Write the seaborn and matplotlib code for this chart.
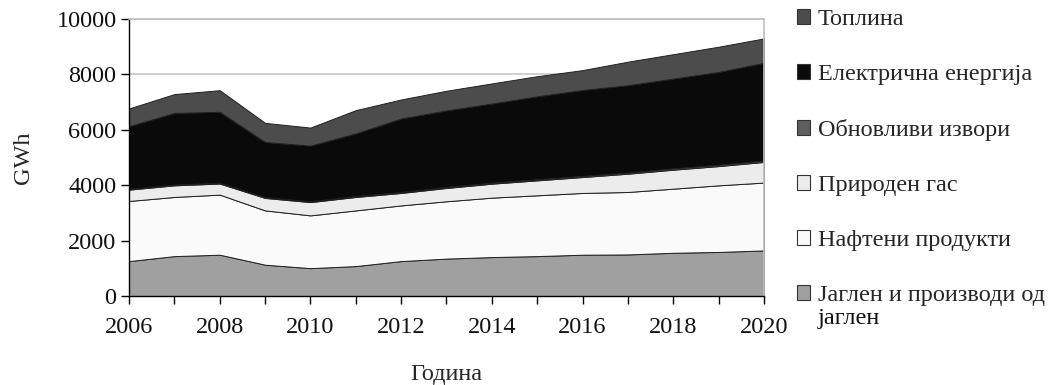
import seaborn as sns
import matplotlib.pyplot as plt

# data (GWh)
years = list(range(2006, 2021))
coal = [1260, 1440, 1490, 1130, 1005, 1080, 1260, 1350, 1405, 1440, 1490, 1500, 1560, 1590, 1645]
oil = [2170, 2135, 2170, 1960, 1905, 2010, 2010, 2070, 2145, 2195, 2230, 2255, 2315, 2405, 2450]
gas = [410, 420, 400, 450, 480, 485, 450, 480, 505, 540, 575, 660, 685, 695, 745]
renewables = [30, 30, 30, 30, 30, 35, 35, 40, 40, 40, 45, 45, 50, 50, 50]
electricity = [2260, 2585, 2560, 1990, 2010, 2260, 2655, 2760, 2855, 2995, 3100, 3150, 3240, 3350, 3530]
heat = [640, 680, 780, 690, 650, 840, 685, 710, 725, 725, 715, 850, 880, 910, 880]

labels = ["Јаглен и производи од", "Нафтени продукти", "Природен гас",
          "Обновливи извори", "Електрична енергија", "Топлина"]
colors = ["#a0a0a0", "#fafafa", "#ececec", "#5e5e5e", "#0a0a0a", "#4c4c4c"]

sns.set_theme(style="white")
plt.rcParams['font.family'] = ['Liberation Serif', 'DejaVu Serif']
fs = 17.5

fig = plt.figure(figsize=(10.53, 3.85), dpi=100)
ax = fig.add_axes([0.1225, 0.2312, 0.603, 0.7194])

polys = ax.stackplot(years, coal, oil, gas, renewables, electricity, heat,
                     colors=colors, labels=labels,
                     edgecolor="#202020", linewidth=0.7)

ax.set_xlim(2006, 2020)
ax.set_ylim(0, 10000)
ax.set_yticks(range(0, 10001, 2000))
ax.set_xticks(years)
ax.set_xticklabels([str(y) if y % 2 == 0 else "" for y in years])

ax.set_axisbelow(True)
ax.grid(axis="y", color="#c8c8c8", linewidth=1.2)
ax.grid(axis="x", visible=False)
for side in ["left", "bottom"]:
    ax.spines[side].set_color("black")
    ax.spines[side].set_linewidth(1.0)
for side in ["top", "right"]:
    ax.spines[side].set_color("#c0c0c0")
    ax.spines[side].set_linewidth(1.2)

ax.tick_params(axis="both", which="major", direction="out", length=6,
               width=1, color="black", labelsize=fs, labelcolor="#111111")
ax.tick_params(axis="y", left=True, pad=3)
ax.tick_params(axis="x", bottom=True, pad=9)

ax.set_ylabel("GWh", fontsize=fs, labelpad=16)
ax.set_xlabel("Година", fontsize=fs, labelpad=19)

handles, labs = ax.get_legend_handles_labels()
leg = fig.legend(handles[::-1], labs[::-1], loc="upper left",
                 bbox_to_anchor=(0.736, 1.033), frameon=False,
                 fontsize=fs, handlelength=0.55, handleheight=0.55,
                 handletextpad=0.3, labelspacing=1.4)
for p in leg.get_patches():
    p.set_edgecolor("#333333")
    p.set_linewidth(0.8)

# second line of the last legend entry
fig.canvas.draw()
last = leg.get_texts()[-1]
bb = last.get_window_extent()
x0, y0 = fig.transFigure.inverted().transform((bb.x0, bb.y0))
fig.text(x0, y0 - 0.005, "јаглен", fontsize=fs, va="top", ha="left",
         color="#111111")

plt.savefig("out.png", dpi=100)
